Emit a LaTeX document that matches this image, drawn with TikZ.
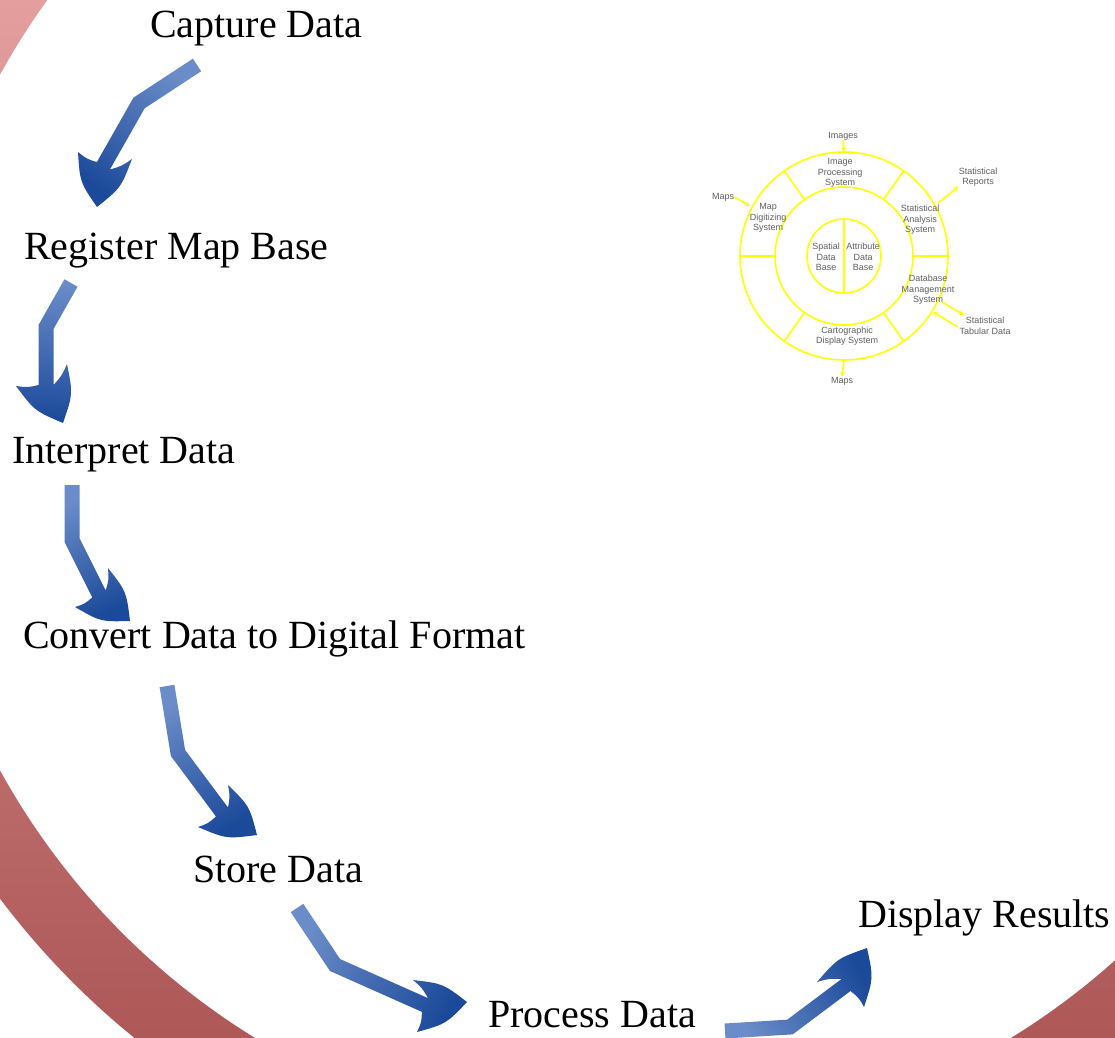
\documentclass[tikz,border=0pt]{standalone}
\usepackage{fontspec}
\setmainfont{Liberation Serif}
\newfontfamily\labsans{Liberation Sans}
\usetikzlibrary{calc,arrows.meta}
\definecolor{ringtop}{RGB}{228,158,158}
\definecolor{ringbot}{RGB}{174,88,88}
\definecolor{arrtail}{RGB}{106,140,200}
\definecolor{arrhead}{RGB}{28,74,154}
\definecolor{gisyellow}{RGB}{255,255,0}
\definecolor{gistext}{RGB}{95,95,95}
% #1 = prefix of coordinates (t,b,n,r,p,l), #2 = shading angle
\newcommand{\fatarrow}[2]{%
  \coordinate (#1tP) at ($(#1t)!7.5pt!90:(#1b)$);
  \coordinate (#1tM) at ($(#1t)!7.5pt!-90:(#1b)$);
  \coordinate (#1b1P) at ($(#1b)!7.5pt!-90:(#1t)$);
  \coordinate (#1b1M) at ($(#1b)!7.5pt!90:(#1t)$);
  \coordinate (#1b2P) at ($(#1b)!7.5pt!90:(#1n)$);
  \coordinate (#1b2M) at ($(#1b)!7.5pt!-90:(#1n)$);
  \coordinate (#1nP) at ($(#1n)!7.5pt!-90:(#1b)$);
  \coordinate (#1nM) at ($(#1n)!7.5pt!90:(#1b)$);
  \coordinate (#1bP) at (intersection of #1tP--#1b1P and #1b2P--#1nP);
  \coordinate (#1bM) at (intersection of #1tM--#1b1M and #1b2M--#1nM);
  \coordinate (#1m1) at ($(#1r)!0.5!(#1p)$);
  \coordinate (#1c1) at ($(#1m1)!8pt!90:(#1p)$);
  \coordinate (#1m2) at ($(#1p)!0.5!(#1l)$);
  \coordinate (#1c2) at ($(#1m2)!8pt!90:(#1l)$);
  \coordinate (#1m3) at ($(#1l)!0.5!(#1nM)$);
  \coordinate (#1c3) at ($(#1m3)!2pt!-90:(#1nM)$);
  \coordinate (#1m4) at ($(#1nP)!0.5!(#1r)$);
  \coordinate (#1c4) at ($(#1m4)!2pt!-90:(#1r)$);
  \shade[top color=arrtail, bottom color=arrhead, shading angle=#2]
    (#1tP) -- (#1bP) -- (#1nP) .. controls (#1c4) .. (#1r)
    .. controls (#1c1) .. (#1p) .. controls (#1c2) .. (#1l)
    .. controls (#1c3) .. (#1nM) -- (#1bM) -- (#1tM) -- cycle;
}
\begin{document}
\begin{tikzpicture}[x=1pt,y=-1pt,
  steplabel/.style={anchor=base west, inner sep=0pt, font=\fontsize{40}{48}\selectfont},
  gisline/.style={draw=gisyellow, line width=1.6pt},
  gisarrow/.style={draw=gisyellow, line width=1.6pt, -{Stealth[length=5pt,width=5pt]}},
  gislab/.style={font=\labsans\fontsize{9}{10.5}\selectfont, text=gistext, align=center, inner sep=0pt}]

\useasboundingbox (0,0) rectangle (1115,1037);
\clip (0,0) rectangle (1115,1037);

% ---- big ring ----
\begin{scope}
  \clip (633,422.5) circle[radius=792];
  \shade[top color=ringtop, bottom color=ringbot] (0,0) rectangle (1115,1037);
\end{scope}
\fill[white] (633,422.5) circle[radius=722];

% ---- small GIS diagram ----
\coordinate (O) at (844,256);
\draw[gisline] (O) circle[radius=104];
\draw[gisline] (O) circle[radius=69];
\draw[gisline] (O) circle[radius=37];
\draw[gisline] ($(O)+(0,-37)$) -- ($(O)+(0,37)$);
\foreach \a in {0,55,125,180,235,305}
  \draw[gisline] ($(O)+(\a:69)$) -- ($(O)+(\a:104)$);

\node[gislab] (images) at (843,136) {Images};
\node[gislab] (ips) at (840,173) {Image\\Processing\\System};
\node[gislab] (mds) at (768,218) {Map\\Digitizing\\System};
\node[gislab] (sas) at (920,220) {Statistical\\Analysis\\System};
\node[gislab] (dbms) at (928,290) {Database\\Management\\System};
\node[gislab] (cds) at (847,336) {Cartographic\\Display System};
\node[gislab] (sdb) at (826,257) {Spatial\\Data\\Base};
\node[gislab] (adb) at (863,257) {Attribute\\Data\\Base};
\node[gislab] (srep) at (978,177) {Statistical\\Reports};
\node[gislab] (mapsin) at (723,197) {Maps};
\node[gislab] (stab) at (985,326) {Statistical\\Tabular Data};
\node[gislab] (mapsout) at (842,381) {Maps};

\coordinate (imgin) at (844,152);
\coordinate (srepout) at (938,203);
\coordinate (mapsto) at (750,206);
\coordinate (dbout) at (942,302);
\coordinate (dboutend) at (964,315);
\coordinate (dbinstart) at (958,327);
\coordinate (dbin) at (933,312);
\coordinate (cdsout) at (844,360);
\draw[gisarrow] (images.south) -- (imgin);
\draw[gisarrow] (srepout) -- (srep.south west);
\draw[gisarrow] (mapsin.east) -- (mapsto);
\draw[gisarrow] (dbout) -- (dboutend);
\draw[gisarrow] (dbinstart) -- (dbin);
\draw[gisarrow] (cdsout) -- (mapsout.north);

% ---- step labels ----
\node[steplabel] (cap) at (150,37) {Capture Data};
\node[steplabel] (reg) at (24,259) {Register Map Base};
\node[steplabel] (interp) at (12,463) {Interpret Data};
\node[steplabel] (conv) at (23,648) {Convert Data to Digital Format};
\node[steplabel] (store) at (193,882) {Store Data};
\node[steplabel] (proc) at (488,1027) {Process Data};
\node[steplabel] (disp) at (858,927) {Display Results};

% ---- fat arrows ----
% arrow 1
\coordinate (a1t) at (197,65);  \coordinate (a1b) at (139,103); \coordinate (a1n) at (103.4,165.8);
\coordinate (a1r) at (132,159); \coordinate (a1p) at (97,207);  \coordinate (a1l) at (78,152);
\fatarrow{a1}{-35.5}
% arrow 2
\coordinate (a2t) at (71,283);  \coordinate (a2b) at (46,327);  \coordinate (a2n) at (46,385);
\coordinate (a2r) at (67,364);  \coordinate (a2p) at (63,423);  \coordinate (a2l) at (16,386);
\fatarrow{a2}{-4}
% arrow 3
\coordinate (a3t) at (72,485);  \coordinate (a3b) at (72,540);  \coordinate (a3n) at (99,594);
\coordinate (a3r) at (108,568); \coordinate (a3p) at (130,621); \coordinate (a3l) at (75,607);
\fatarrow{a3}{23}
% arrow 4
\coordinate (a4t) at (167,686); \coordinate (a4b) at (178,753); \coordinate (a4n) at (222,812);
\coordinate (a4r) at (228,785); \coordinate (a4p) at (257,835); \coordinate (a4l) at (198,827);
\fatarrow{a4}{31}
% arrow 5
\coordinate (a5t) at (297,908); \coordinate (a5b) at (335,965); \coordinate (a5n) at (425,1005);
\coordinate (a5r) at (413,980); \coordinate (a5p) at (467,1002); \coordinate (a5l) at (417,1032);
\fatarrow{a5}{61}
% arrow 6
\coordinate (a6t) at (725,1031); \coordinate (a6b) at (790,1027); \coordinate (a6n) at (846,985);
\coordinate (a6r) at (817,982);  \coordinate (a6p) at (867,948);  \coordinate (a6l) at (864,1007);
\fatarrow{a6}{120}

\end{tikzpicture}
\end{document}
